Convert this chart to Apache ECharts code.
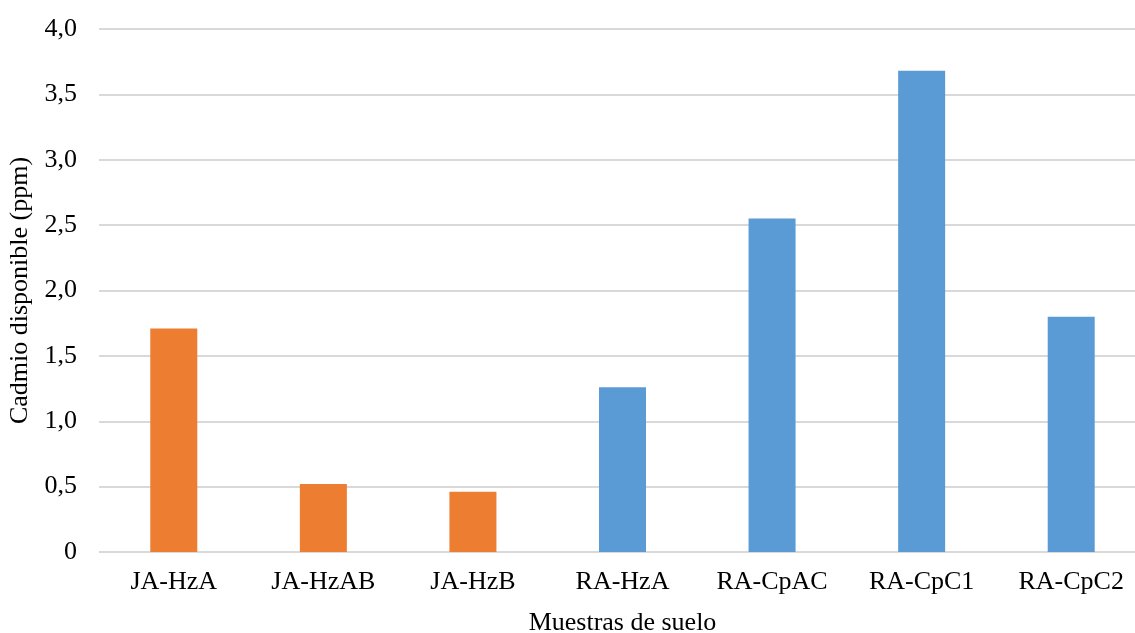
<!DOCTYPE html>
<html>
<head>
<meta charset="utf-8">
<script src="https://cdn.jsdelivr.net/npm/echarts@6/dist/echarts.min.js"></script>
<style>html,body{margin:0;padding:0;background:#fff;overflow:hidden}#c{width:1135px;height:633px}</style>
</head>
<body>
<div id="c"></div>
<script>
const categories = ['JA-HzA', 'JA-HzAB', 'JA-HzB', 'RA-HzA', 'RA-CpAC', 'RA-CpC1', 'RA-CpC2'];
const values = [1.71, 0.52, 0.46, 1.26, 2.55, 3.68, 1.80];
const groups = ['JA', 'JA', 'JA', 'RA', 'RA', 'RA', 'RA'];
const groupColors = { JA: '#ED7D31', RA: '#5B9BD5' };

const font = 'Liberation Serif';
const chart = echarts.init(document.getElementById('c'), null, { renderer: 'canvas' });
chart.setOption({
  animation: false,
  backgroundColor: '#ffffff',
  grid: { left: 99, top: 29, width: 1047, height: 523, containLabel: false, outerBoundsMode: 'none' },
  xAxis: {
    type: 'category',
    data: categories,
    name: 'Muestras de suelo',
    nameLocation: 'middle',
    nameGap: 58,
    nameTextStyle: { fontFamily: font, fontSize: 26, color: '#000' },
    axisLine: { show: false },
    axisTick: { show: false },
    axisLabel: { fontFamily: font, fontSize: 26, color: '#000', margin: 17 }
  },
  yAxis: {
    type: 'value',
    min: 0, max: 4, interval: 0.5,
    name: 'Cadmio disponible (ppm)',
    nameLocation: 'middle',
    nameGap: 62,
    nameTextStyle: { fontFamily: font, fontSize: 26, color: '#000' },
    axisLine: { show: false },
    axisTick: { show: false },
    splitLine: { lineStyle: { color: '#d9d9d9', width: 2 } },
    axisLabel: {
      fontFamily: font, fontSize: 26, color: '#000', margin: 22,
      formatter: v => v === 0 ? '0' : v.toFixed(1).replace('.', ',')
    }
  },
  series: [{
    type: 'bar',
    barWidth: 47,
    data: values.map((v, i) => ({ value: v, itemStyle: { color: groupColors[groups[i]] } }))
  }]
});
</script>
</body>
</html>
